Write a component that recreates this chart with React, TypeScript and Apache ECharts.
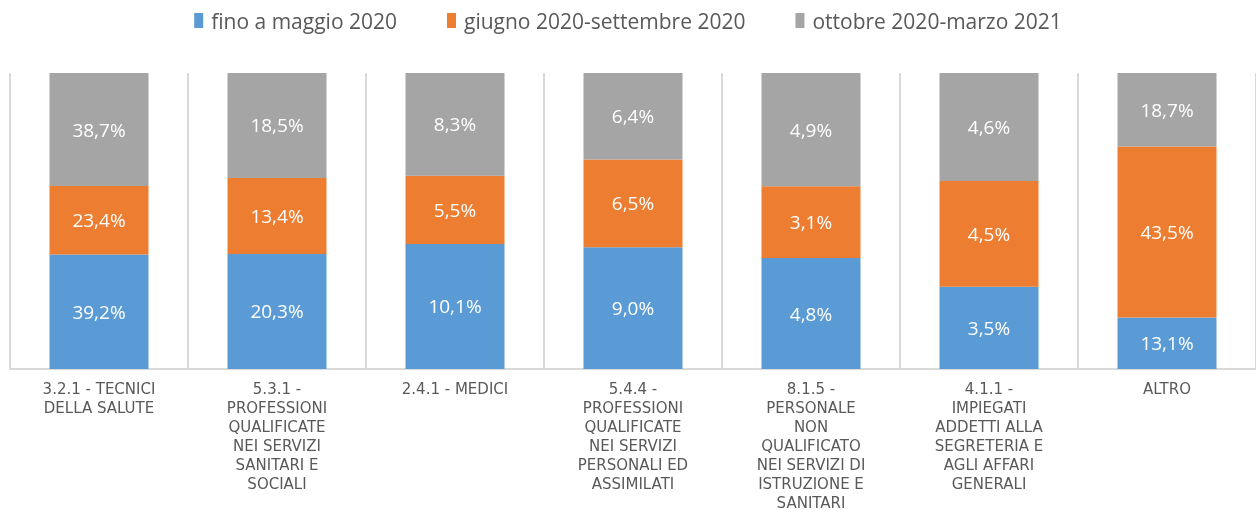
import React, { useEffect, useRef } from "react";
import * as echarts from "echarts";

const categories = [
  "3.2.1 - TECNICI\nDELLA SALUTE",
  "5.3.1 -\nPROFESSIONI\nQUALIFICATE\nNEI SERVIZI\nSANITARI E\nSOCIALI",
  "2.4.1 - MEDICI",
  "5.4.4 -\nPROFESSIONI\nQUALIFICATE\nNEI SERVIZI\nPERSONALI ED\nASSIMILATI",
  "8.1.5 -\nPERSONALE\nNON\nQUALIFICATO\nNEI SERVIZI DI\nISTRUZIONE E\nSANITARI",
  "4.1.1 -\nIMPIEGATI\nADDETTI ALLA\nSEGRETERIA E\nAGLI AFFARI\nGENERALI",
  "ALTRO",
];

const seriesNames = ["fino a maggio 2020", "giugno 2020-settembre 2020", "ottobre 2020-marzo 2021"];
const finoMaggio = [39.2, 20.3, 10.1, 9.0, 4.8, 3.5, 13.1];
const giugnoSettembre = [23.4, 13.4, 5.5, 6.5, 3.1, 4.5, 43.5];
const ottobreMarzo = [38.7, 18.5, 8.3, 6.4, 4.9, 4.6, 18.7];
const colors = ["#5B9BD5", "#ED7D31", "#A5A5A5"];

export default function App() {
  const ref = useRef<HTMLDivElement>(null);
  useEffect(() => {
    if (!ref.current) return;
    const chart = echarts.init(ref.current, null, { renderer: "svg" });
    const raw = [finoMaggio, giugnoSettembre, ottobreMarzo];
    const totals = categories.map((_, i) => raw.reduce((s, arr) => s + arr[i], 0));
    const series = raw.map((arr, k) => ({
      name: seriesNames[k],
      type: "bar",
      stack: "total",
      barWidth: 99,
      itemStyle: { color: colors[k] },
      label: {
        show: true,
        position: "inside",
        color: "#ffffff",
        fontFamily: "Open Sans",
        fontSize: 19,
        formatter: (p: any) => arr[p.dataIndex].toFixed(1).replace(".", ",") + "%",
      },
      data: arr.map((v, i) => (v / totals[i]) * 100),
    }));
    chart.setOption({
      animation: false,
      color: colors,
      legend: {
        top: 5,
        left: "center",
        itemWidth: 9,
        itemHeight: 15,
        itemGap: 50,
        icon: "rect",
        textStyle: { fontFamily: "Open Sans", fontSize: 21, color: "#595959", padding: [0, 0, 0, 3] },
        data: seriesNames,
      },
      grid: { left: 10, right: 0, top: 73, bottom: 146, outerBoundsMode: "none", containLabel: false },
      xAxis: {
        type: "category",
        data: categories,
        axisLine: { lineStyle: { color: "#D9D9D9", width: 2 } },
        axisTick: { show: false },
        splitLine: { show: true, lineStyle: { color: "#D9D9D9", width: 2 } },
        axisLabel: {
          interval: 0,
          margin: 10,
          color: "#595959",
          fontFamily: "DejaVu Sans",
          fontSize: 15,
          lineHeight: 19,
          align: "center",
        },
      },
      yAxis: { type: "value", min: 0, max: 100, show: false, splitLine: { show: false } },
      series,
    });
    return () => chart.dispose();
  }, []);
  return <div ref={ref} style={{ position: "fixed", left: 0, top: 0, width: 1256, height: 515 }} />;
}
